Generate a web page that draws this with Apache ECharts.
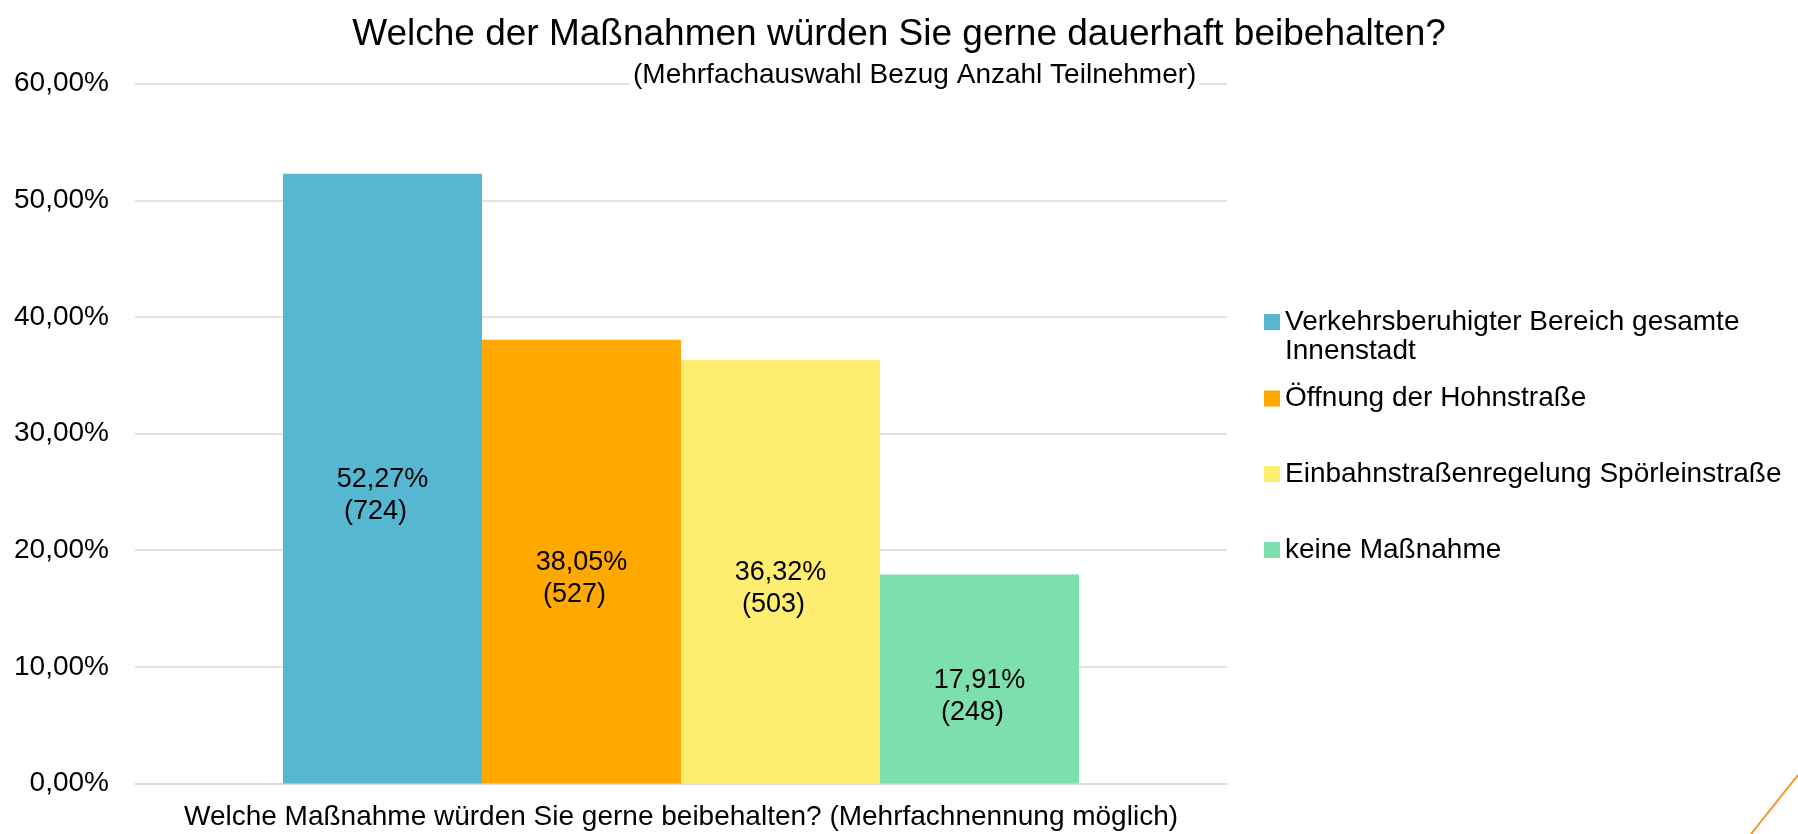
<!DOCTYPE html>
<html>
<head>
<meta charset="utf-8">
<script src="https://cdn.jsdelivr.net/npm/echarts@6/dist/echarts.min.js"></script>
<style>
html,body{margin:0;padding:0;background:#fff;}
#chart{width:1798px;height:834px;}
</style>
</head>
<body>
<div id="chart"></div>
<script>
const titleText = 'Welche der Maßnahmen würden Sie gerne dauerhaft beibehalten?';
const subtitleText = '(Mehrfachauswahl Bezug Anzahl Teilnehmer)';
const categories = ['Welche Maßnahme würden Sie gerne beibehalten? (Mehrfachnennung möglich)'];
const seriesNames = ['Verkehrsberuhigter Bereich gesamte Innenstadt', 'Öffnung der Hohnstraße', 'Einbahnstraßenregelung Spörleinstraße', 'keine Maßnahme'];
const percentValues = [52.27, 38.05, 36.32, 17.91];
const counts = [724, 527, 503, 248];
const yTicks = [0, 10, 20, 30, 40, 50, 60];
const colors = ['#55B7D2', '#FFA900', '#FFED6F', '#7DDFAD'];

const FONT = '"Liberation Sans", Arial, sans-serif';
const fmtPct = v => v.toFixed(2).replace('.', ',') + '%';

const chart = echarts.init(document.getElementById('chart'), null, {renderer: 'canvas'});

const LH = 29;
const legendCenters = [322, 398.5, 474, 550];
const legends = seriesNames.map((n, i) => ({
  data: [n],
  orient: 'vertical',
  left: 1264,
  top: legendCenters[i] - (i === 0 ? LH * 1.5 : LH / 2),
  padding: 0,
  itemWidth: 16,
  itemHeight: 16,
  icon: 'rect',
  selectedMode: false,
  formatter: name => name === seriesNames[0] ? '\nVerkehrsberuhigter Bereich gesamte\nInnenstadt' : name,
  textStyle: {fontFamily: FONT, fontSize: 28, color: '#000', lineHeight: LH}
}));

const option = {
  backgroundColor: '#fff',
  animation: false,
  color: colors,
  title: [
    {
      text: titleText,
      left: 'center',
      top: 8,
      textStyle: {fontFamily: FONT, fontSize: 37, fontWeight: 'normal', color: '#000', lineHeight: 44}
    },
    {
      text: subtitleText,
      left: 630,
      top: 59,
      padding: [0, 3, 0, 3],
      backgroundColor: '#fff',
      textStyle: {fontFamily: FONT, fontSize: 28, fontWeight: 'normal', color: '#000', lineHeight: 32}
    }
  ],
  legend: legends,
  grid: {left: 135, right: 571, top: 83.7, bottom: 50.5, containLabel: false},
  xAxis: {
    type: 'category',
    data: categories,
    axisLine: {show: true, lineStyle: {color: '#D9D9D9', width: 1.5}},
    axisTick: {show: false},
    axisLabel: {fontFamily: FONT, fontSize: 28, color: '#000', lineHeight: 32, margin: 18}
  },
  yAxis: {
    type: 'value',
    min: yTicks[0],
    max: yTicks[yTicks.length - 1],
    interval: 10,
    axisLine: {show: false},
    axisTick: {show: false},
    splitLine: {lineStyle: {color: '#D9D9D9', width: 1.5}},
    axisLabel: {fontFamily: FONT, fontSize: 28, color: '#000', margin: 26, formatter: v => fmtPct(v)}
  },
  series: seriesNames.map((n, i) => ({
    name: n,
    type: 'bar',
    data: [percentValues[i]],
    barGap: '0%',
    barCategoryGap: '27.1%',
    itemStyle: {color: colors[i]},
    label: {
      show: true,
      position: 'inside',
      offset: [0, 17],
      formatter: () => '{a|' + fmtPct(percentValues[i]) + '}\n{b|(' + counts[i] + ')}',
      rich: {
        a: {fontFamily: FONT, fontSize: 27, color: '#000', lineHeight: 32},
        b: {fontFamily: FONT, fontSize: 27, color: '#000', lineHeight: 32, padding: [0, 14, 0, 0]}
      }
    }
  })),
  graphic: [{
    type: 'line',
    shape: {x1: 1798, y1: 775, x2: 1751, y2: 834},
    style: {stroke: '#F7941D', lineWidth: 2}
  }]
};
chart.setOption(option);
</script>
</body>
</html>
